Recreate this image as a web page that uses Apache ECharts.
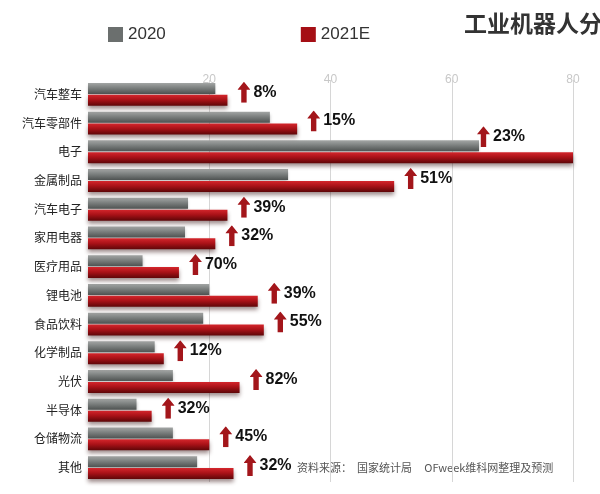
<!DOCTYPE html>
<html>
<head>
<meta charset="utf-8">
<script src="https://cdn.jsdelivr.net/npm/echarts@6/dist/echarts.min.js"></script>
<style>
  html, body { margin: 0; padding: 0; background: #fff; }
  #main { width: 600px; height: 494px; }
</style>
</head>
<body>
<div id="main"></div>
<script>
// 行业分类
var categories = ["汽车整车", "汽车零部件", "电子", "金属制品", "汽车电子", "家用电器", "医疗用品",
  "锂电池", "食品饮料", "化学制品", "光伏", "半导体", "仓储物流", "其他"];
var values2020 = [21, 30, 64.5, 33, 16.5, 16, 9, 20, 19, 11, 14, 8, 14, 18];
var values2021 = [23, 34.5, 80, 50.5, 23, 21, 15, 28, 29, 12.5, 25, 10.5, 20, 24];
var growth = ["8%", "15%", "23%", "51%", "39%", "32%", "70%", "39%", "55%", "12%", "82%", "32%", "45%", "32%"];
var xTicks = [0, 20, 40, 60, 80];

var myChart = echarts.init(document.getElementById("main"));

// block arrow used in front of each growth figure
var arrowSvg = "data:image/svg+xml;charset=utf-8," + encodeURIComponent(
  '<svg xmlns="http://www.w3.org/2000/svg" width="13" height="21" viewBox="0 0 13 21">' +
  '<polygon points="6.5,0 13,8 9.2,8 9.2,21 3.8,21 3.8,8 0,8" fill="#a3161b"/></svg>'
);

var grayFill = new echarts.graphic.LinearGradient(0, 0, 0, 1, [
  { offset: 0, color: "#a3a6a5" },
  { offset: 0.45, color: "#7c807f" },
  { offset: 1, color: "#4e5251" }
]);
var redFill = new echarts.graphic.LinearGradient(0, 0, 0, 1, [
  { offset: 0, color: "#d4262c" },
  { offset: 0.45, color: "#aa1218" },
  { offset: 1, color: "#5e0608" }
]);

var redData = values2021.map(function (v, i) {
  var item = { value: v };
  // bar reaching the right edge: put the label above it, like the original
  if (v >= 70) {
    item.label = { position: "insideTopRight", offset: [-38, -36] };
  }
  return item;
});

var option = {
  animation: false,
  textStyle: { fontFamily: "Noto Sans CJK SC" },
  legend: {
    left: 103,
    top: 21,
    itemWidth: 15,
    itemHeight: 15,
    itemGap: 135,
    icon: "rect",
    textStyle: { fontSize: 17, color: "#333", fontFamily: "Liberation Sans" },
    data: [
      { name: "2020", itemStyle: { color: "#6b6f6e" } },
      { name: "2021E", itemStyle: { color: "#a50f15" } }
    ]
  },
  graphic: [
    {
      type: "text",
      left: 464,
      top: 12,
      style: {
        text: "工业机器人分行业销量",
        fontSize: 23,
        fontWeight: "bold",
        fill: "#333",
        fontFamily: "Noto Sans CJK SC"
      }
    },
    {
      type: "text",
      left: 297,
      top: 462,
      style: {
        text: "资料来源：  国家统计局     OFweek维科网整理及预测",
        fontSize: 11,
        fill: "#555",
        fontFamily: "Noto Sans CJK SC"
      }
    }
  ],
  grid: { left: 88, right: 27, top: 80, bottom: 12 },
  xAxis: {
    type: "value",
    position: "top",
    min: xTicks[0],
    max: xTicks[xTicks.length - 1],
    interval: 20,
    axisLine: { show: false },
    axisTick: { show: false },
    axisLabel: { showMinLabel: false, color: "#c8c8c8", fontSize: 12, margin: -6, fontFamily: "Liberation Sans" },
    splitLine: { showMinLine: false, lineStyle: { color: "#d6d6d6" } }
  },
  yAxis: {
    type: "category",
    inverse: true,
    data: categories,
    axisLine: { show: false },
    axisTick: { show: false },
    axisLabel: { color: "#222", fontSize: 12, margin: 6 }
  },
  series: [
    {
      name: "2020",
      type: "bar",
      data: values2020,
      barWidth: 11,
      barGap: "8%",
      itemStyle: {
        color: grayFill,
        shadowColor: "rgba(0,0,0,0.25)",
        shadowBlur: 3,
        shadowOffsetY: 2
      }
    },
    {
      name: "2021E",
      type: "bar",
      data: redData,
      barWidth: 11,
      itemStyle: {
        color: redFill,
        shadowColor: "rgba(40,0,0,0.45)",
        shadowBlur: 4,
        shadowOffsetY: 3
      },
      label: {
        show: true,
        position: "right",
        distance: 10,
        offset: [0, -8],
        formatter: function (p) {
          return "{arrow|}{pct|" + growth[p.dataIndex] + "}";
        },
        rich: {
          arrow: { width: 13, height: 21, backgroundColor: { image: arrowSvg }, padding: 0 },
          pct: { color: "#111", fontSize: 16, fontWeight: "bold", fontFamily: "Liberation Sans", padding: [0, 0, 0, 3] }
        }
      }
    }
  ]
};

myChart.setOption(option);
</script>
</body>
</html>
